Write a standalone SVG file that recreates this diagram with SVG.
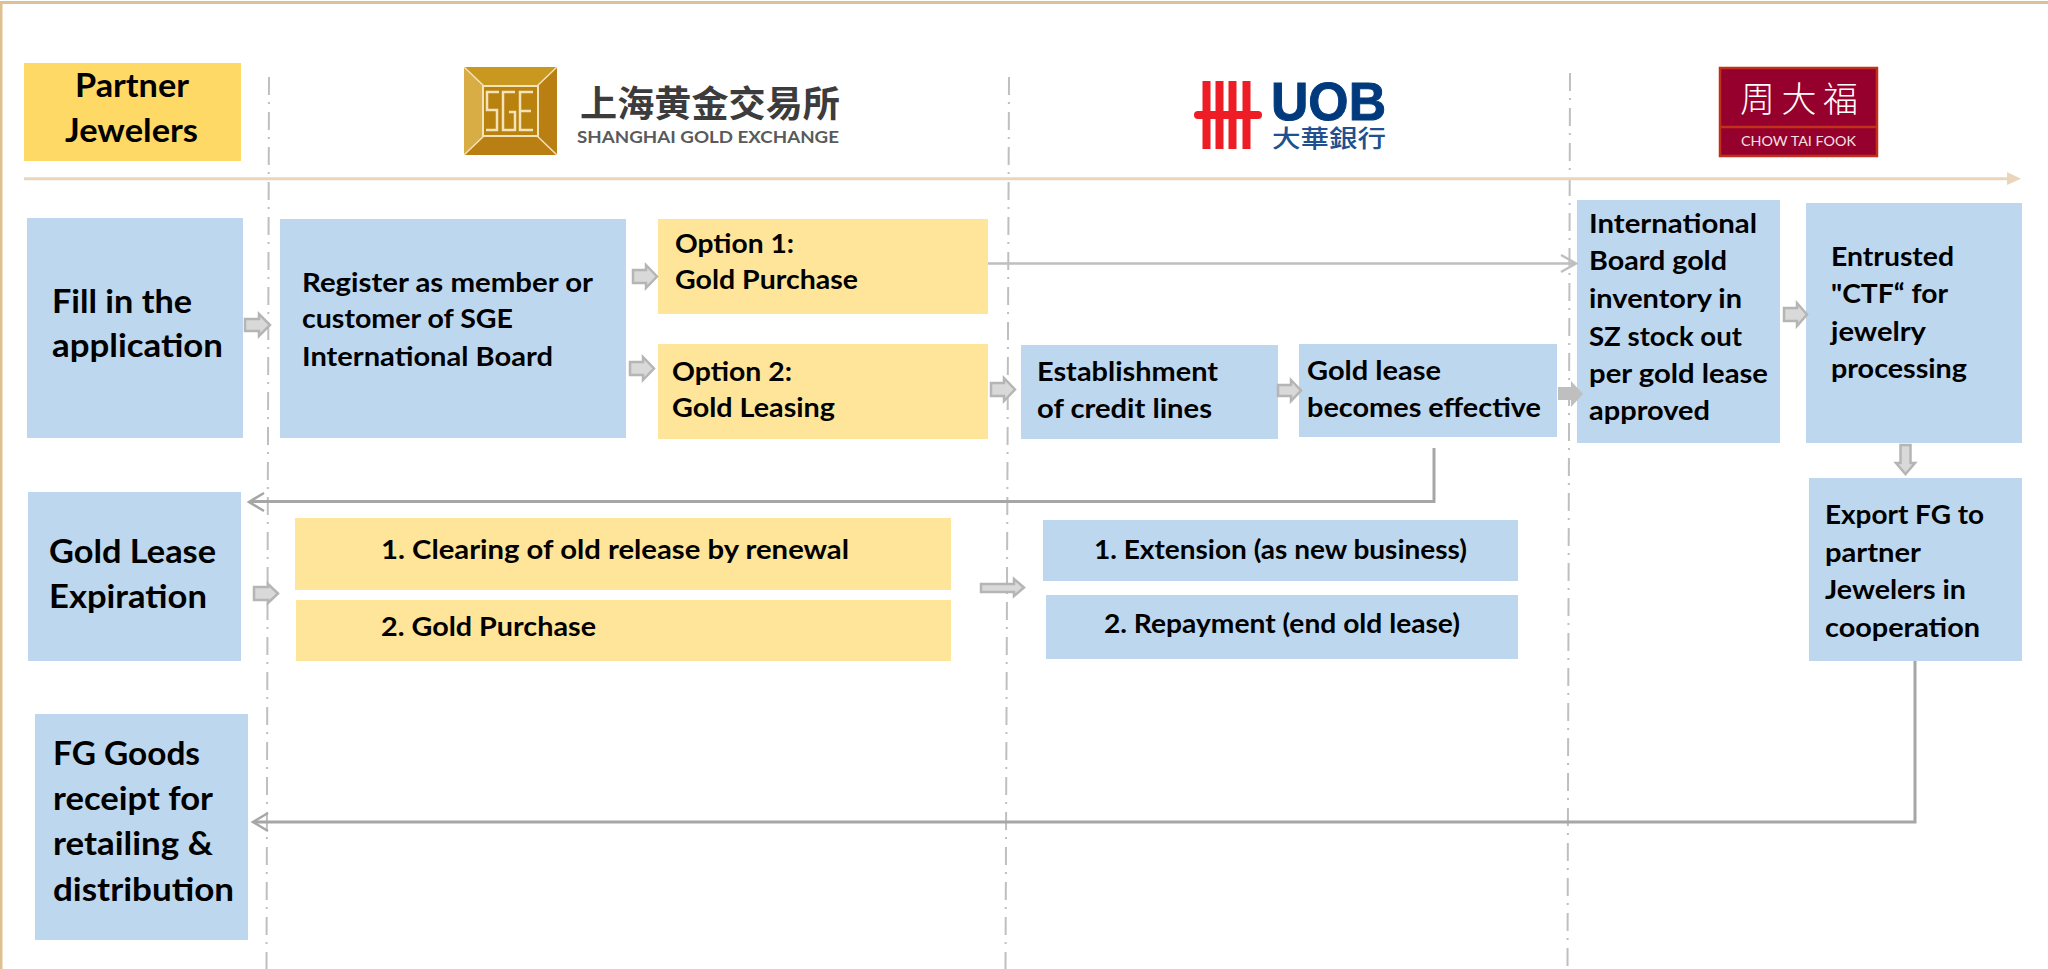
<svg xmlns="http://www.w3.org/2000/svg" width="2048" height="969" viewBox="0 0 2048 969">
<style>
text{font-family:"Lato","Liberation Sans",sans-serif;font-weight:700;fill:#000}
.m{font-size:27.5px}
.l{font-size:33px}
.blue{fill:#bdd7ee}
.yel{fill:#fee599}
.sep{stroke:#bfbfbf;stroke-width:2;fill:none;stroke-dasharray:18 7 2 8}
.blk{fill:#d9d9d9;stroke:#b5b5b5;stroke-width:2.5}
.thin{fill:none;stroke:#bfbfbf;stroke-width:2.5}
.con{fill:none;stroke:#a6a6a6;stroke-width:3}
.cjk{font-family:"Noto Sans CJK SC","Noto Sans CJK TC",sans-serif}
</style>
<rect width="2048" height="969" fill="#fff"/>
<g id="frame">
<path d="M0 2.5H2048" stroke="#dcc09a" stroke-width="3" fill="none"/>
<path d="M1 2V969" stroke="#dfc191" stroke-width="3" fill="none"/>
</g>
<g id="separators">
<path class="sep" d="M269 77L266.5 969"/>
<path class="sep" d="M1009 77L1005.5 969"/>
<path class="sep" d="M1570 73L1567.5 969"/>
</g>
<g id="timeline">
<path d="M24 178.7H2009" stroke="#ead5bb" stroke-width="3" fill="none"/>
<path d="M2007 172L2021 178.7L2007 185Z" fill="#ead5bb"/>
</g>

<g id="logo-sge">
<rect x="464" y="67" width="93" height="88" fill="#c48a1c"/>
<path d="M464 67H557L535 88H486Z" fill="#c9981f"/>
<path d="M464 67L486 88V134L464 155Z" fill="#d9ad45"/>
<path d="M464 155L486 134H535L557 155Z" fill="#b97f12"/>
<path d="M557 67L535 88V134L557 155Z" fill="#b97f12"/>
<path d="M464 67L486 88M557 67L535 88M464 155L486 134M557 155L535 134" stroke="#f4e3b8" stroke-width="1.5"/>
<rect x="483" y="86" width="55" height="50" fill="#b9820f" stroke="#f4e3b8" stroke-width="2"/>
<path d="M499 92H487V110H497V130H486M515 92H503V130H515V112H509M533 92H520V130H533M520 111H531" stroke="#f4e3b8" stroke-width="2.5" fill="none"/>
<text class="cjk" x="580" y="117" font-size="36" textLength="260" lengthAdjust="spacingAndGlyphs" style="fill:#3c3c3c">上海黄金交易所</text>
<text x="577" y="143" font-size="17" textLength="262" lengthAdjust="spacingAndGlyphs" style="fill:#5a5a5a">SHANGHAI GOLD EXCHANGE</text>
</g>
<g id="logo-uob">
<path d="M1206.500 81V149M1219.500 81V149M1232.500 81V149M1246.500 81V149" stroke="#ee1c25" stroke-width="8" fill="none"/>
<rect x="1194" y="111" width="68" height="8" rx="4" fill="#ee1c25"/>
<text x="1271" y="120" font-size="54" textLength="115" lengthAdjust="spacingAndGlyphs" style="font-family:'Liberation Sans',sans-serif;fill:#003a7d;stroke:#003a7d;stroke-width:1">UOB</text>
<text class="cjk" x="1272" y="147" font-size="24" textLength="114" lengthAdjust="spacingAndGlyphs" style="fill:#20508f;font-weight:500">大華銀行</text>
</g>
<g id="logo-ctf">
<rect x="1720" y="68" width="157" height="88" fill="#96002d" stroke="#c0301a" stroke-width="2.500"/>
<path d="M1720 127H1877" stroke="#c0301a" stroke-width="2.500" fill="none"/>
<text class="cjk" x="1740" y="112" font-size="35" textLength="118" style="fill:#fff;font-weight:300">周大福</text>
<text x="1741" y="146" font-size="13" textLength="115" lengthAdjust="spacingAndGlyphs" style="fill:#f5e3e3;font-weight:400">CHOW TAI FOOK</text>
</g>

<g id="node-partner">
<rect x="24" y="63" width="217" height="98" fill="#ffd966"/>
<text class="l" x="75" y="97" textLength="114" lengthAdjust="spacingAndGlyphs">Partner</text>
<text class="l" x="65" y="142" textLength="133" lengthAdjust="spacingAndGlyphs">Jewelers</text>
</g>
<g id="node-fill">
<rect class="blue" x="27" y="218" width="216" height="220"/>
<text class="l" x="52" y="313" textLength="140" lengthAdjust="spacingAndGlyphs">Fill in the</text>
<text class="l" x="52" y="357" textLength="171" lengthAdjust="spacingAndGlyphs">application</text>
</g>
<g id="node-register">
<rect class="blue" x="280" y="219" width="346" height="219"/>
<text class="m" x="302" y="292" textLength="291" lengthAdjust="spacingAndGlyphs">Register as member or</text>
<text class="m" x="302" y="328" textLength="211" lengthAdjust="spacingAndGlyphs">customer of SGE</text>
<text class="m" x="302" y="366" textLength="251" lengthAdjust="spacingAndGlyphs">International Board</text>
</g>
<g id="node-option1">
<rect class="yel" x="658" y="219" width="330" height="95"/>
<text class="m" x="675" y="253" textLength="119" lengthAdjust="spacingAndGlyphs">Option 1:</text>
<text class="m" x="675" y="289" textLength="183" lengthAdjust="spacingAndGlyphs">Gold Purchase</text>
</g>
<g id="node-option2">
<rect class="yel" x="658" y="344" width="330" height="95"/>
<text class="m" x="672" y="381" textLength="120" lengthAdjust="spacingAndGlyphs">Option 2:</text>
<text class="m" x="672" y="417" textLength="163" lengthAdjust="spacingAndGlyphs">Gold Leasing</text>
</g>
<g id="node-credit">
<rect class="blue" x="1021" y="345" width="257" height="94"/>
<text class="m" x="1037" y="381" textLength="181" lengthAdjust="spacingAndGlyphs">Establishment</text>
<text class="m" x="1037" y="418" textLength="175" lengthAdjust="spacingAndGlyphs">of credit lines</text>
</g>
<g id="node-effective">
<rect class="blue" x="1299" y="344" width="258" height="93"/>
<text class="m" x="1307" y="380" textLength="134" lengthAdjust="spacingAndGlyphs">Gold lease</text>
<text class="m" x="1307" y="417" textLength="234" lengthAdjust="spacingAndGlyphs">becomes effective</text>
</g>
<g id="node-inventory">
<rect class="blue" x="1577" y="200" width="203" height="243"/>
<text class="m" x="1589" y="233" textLength="168" lengthAdjust="spacingAndGlyphs">International</text>
<text class="m" x="1589" y="270" textLength="138" lengthAdjust="spacingAndGlyphs">Board gold</text>
<text class="m" x="1589" y="308" textLength="153" lengthAdjust="spacingAndGlyphs">inventory in</text>
<text class="m" x="1589" y="346" textLength="153" lengthAdjust="spacingAndGlyphs">SZ stock out</text>
<text class="m" x="1589" y="383" textLength="179" lengthAdjust="spacingAndGlyphs">per gold lease</text>
<text class="m" x="1589" y="420" textLength="121" lengthAdjust="spacingAndGlyphs">approved</text>
</g>
<g id="node-entrusted">
<rect class="blue" x="1806" y="203" width="216" height="240"/>
<text class="m" x="1831" y="266" textLength="123" lengthAdjust="spacingAndGlyphs">Entrusted</text>
<text class="m" x="1831" y="303" textLength="117" lengthAdjust="spacingAndGlyphs">"CTF“ for</text>
<text class="m" x="1831" y="341" textLength="95" lengthAdjust="spacingAndGlyphs">jewelry</text>
<text class="m" x="1831" y="378" textLength="136" lengthAdjust="spacingAndGlyphs">processing</text>
</g>
<g id="node-export">
<rect class="blue" x="1809" y="478" width="213" height="183"/>
<text class="m" x="1825" y="524" textLength="159" lengthAdjust="spacingAndGlyphs">Export FG to</text>
<text class="m" x="1825" y="562" textLength="96" lengthAdjust="spacingAndGlyphs">partner</text>
<text class="m" x="1825" y="599" textLength="141" lengthAdjust="spacingAndGlyphs">Jewelers in</text>
<text class="m" x="1825" y="637" textLength="155" lengthAdjust="spacingAndGlyphs">cooperation</text>
</g>
<g id="node-expiration">
<rect class="blue" x="28" y="492" width="213" height="169"/>
<text class="l" x="49" y="563" textLength="167" lengthAdjust="spacingAndGlyphs">Gold Lease</text>
<text class="l" x="49" y="608" textLength="158" lengthAdjust="spacingAndGlyphs">Expiration</text>
</g>
<g id="node-clearing">
<rect class="yel" x="295" y="518" width="656" height="72"/>
<text class="m" x="381" y="559" textLength="468" lengthAdjust="spacingAndGlyphs">1. Clearing of old release by renewal</text>
</g>
<g id="node-purchase2">
<rect class="yel" x="296" y="600" width="655" height="61"/>
<text class="m" x="381" y="636" textLength="215" lengthAdjust="spacingAndGlyphs">2. Gold Purchase</text>
</g>
<g id="node-extension">
<rect class="blue" x="1043" y="520" width="475" height="61"/>
<text class="m" x="1094" y="559" textLength="373" lengthAdjust="spacingAndGlyphs">1. Extension (as new business)</text>
</g>
<g id="node-repayment">
<rect class="blue" x="1046" y="595" width="472" height="64"/>
<text class="m" x="1104" y="633" textLength="356" lengthAdjust="spacingAndGlyphs">2. Repayment (end old lease)</text>
</g>
<g id="node-fg">
<rect class="blue" x="35" y="714" width="213" height="226"/>
<text class="l" x="53" y="765" textLength="147" lengthAdjust="spacingAndGlyphs">FG Goods</text>
<text class="l" x="53" y="810" textLength="160" lengthAdjust="spacingAndGlyphs">receipt for</text>
<text class="l" x="53" y="855" textLength="160" lengthAdjust="spacingAndGlyphs">retailing &amp;</text>
<text class="l" x="53" y="901" textLength="181" lengthAdjust="spacingAndGlyphs">distribution</text>
</g>

<g id="connectors">
<path class="blk" d="M245 319H259V314L270 325L259 336V331H245Z"/>
<path class="blk" d="M633 270H646V265L657 276.500L646 288V283H633Z"/>
<path class="blk" d="M630 362H643V357L654 368.500L643 380V375H630Z"/>
<path class="blk" d="M991 383H1004V378L1015 389.500L1004 401V396H991Z"/>
<path class="blk" d="M1278 385H1291V380L1301 390.500L1291 401V396H1278Z"/>
<path d="M1558 387H1571V381L1583 394L1571 407V400H1558Z" fill="#bfbfbf"/>
<path class="blk" d="M1784 308H1797V303L1807 314.500L1797 326V321H1784Z"/>
<path class="blk" d="M1900.500 445H1910.500V463H1915L1905.500 474L1896 463H1900.500Z"/>
<path class="blk" d="M254 587H268V584L278 593.500L268 603V600H254Z"/>
<path class="blk" d="M981 584H1014V579L1024 587.500L1014 596V592H981Z"/>
<path class="thin" d="M988 263.500H1575M1561 255L1576 263.500L1561 272"/>
<path class="con" d="M1434 448V501.500H250"/>
<path class="thin" style="stroke:#a6a6a6" d="M264 493L249 502L264 511"/>
<path class="con" d="M1915 661V822H254"/>
<path class="thin" style="stroke:#a6a6a6" d="M268 813L253 822L268 831"/>
</g>
</svg>
